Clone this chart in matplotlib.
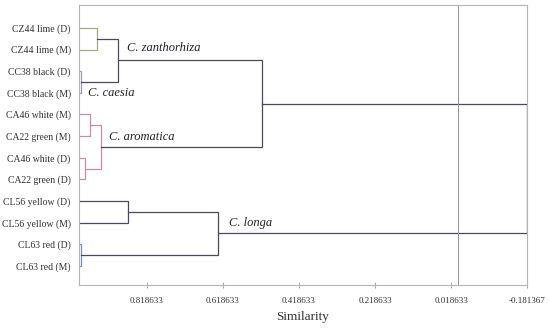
import matplotlib.pyplot as plt

# leaves, top to bottom
labels = ["CZ44 lime (D)", "CZ44 lime (M)", "CC38 black (D)", "CC38 black (M)",
          "CA46 white (M)", "CA22 green (M)", "CA46 white (D)", "CA22 green (D)",
          "CL56 yellow (D)", "CL56 yellow (M)", "CL63 red (D)", "CL63 red (M)"]

# merges: (left child, right child, similarity); new node ids start at 12
merge_a = [0, 2, 12, 4, 6, 15, 14, 8, 10, 19, 18]
merge_b = [1, 3, 13, 5, 7, 16, 17, 9, 11, 20, 21]
merge_sim = [0.951, 0.992, 0.894, 0.969, 0.982, 0.940, 0.515, 0.869, 0.992, 0.631, -0.181367]
merge_col = ["#a9ab7c", "#9a9ab0", "#4a4a5c", "#c68aae", "#c68aae", "#c68aae",
             "#4a4a5c", "#4a4a5c", "#6f8fbf", "#4a4a5c", "#4a4a5c"]

ticks = [0.818633, 0.618633, 0.418633, 0.218633, 0.018633, -0.181367]
x_left = 0.9976

fig = plt.figure(figsize=(5.5, 3.3), dpi=100)
ax = fig.add_axes([0.1436, 0.1364, 0.8146, 0.8485])

# node positions
pos_x = {i: x_left for i in range(len(labels))}
pos_y = {i: float(i) for i in range(len(labels))}
for k in range(len(merge_a)):
    a, b, s = merge_a[k], merge_b[k], merge_sim[k]
    ax.plot([pos_x[a], s, s, pos_x[b]], [pos_y[a], pos_y[a], pos_y[b], pos_y[b]],
            color=merge_col[k], lw=0.9, solid_joinstyle="miter")
    nid = len(labels) + k
    pos_x[nid] = s
    pos_y[nid] = (pos_y[a] + pos_y[b]) / 2

ax.axvline(0.0, color="#999999", lw=0.8)

ax.set_xlim(x_left, -0.181367)
ax.set_ylim(11.88, -1.06)
ax.set_yticks(range(len(labels)))
ax.set_yticklabels(labels, family="Liberation Serif", fontsize=7, color="#333333")
ax.tick_params(axis="y", length=0, pad=6)
ax.set_xticks(ticks)
ax.set_xticklabels([f"{t:.6f}" for t in ticks], family="Liberation Serif",
                   fontsize=6.5, color="#333333")
ax.tick_params(axis="x", direction="inout", length=4, color="#aaaaaa", pad=7)
for sp in ax.spines.values():
    sp.set_color("#b5b5b5")
    sp.set_linewidth(0.8)
ax.set_xlabel("Similarity", family="Liberation Serif", fontsize=9.5, color="#333333")

it = dict(family="Liberation Serif", fontsize=9, color="#222222", va="center")
ax.text(0.871, 0.95, "C. zanthorhiza", style="italic", **it)
ax.text(0.975, 3.0, "C. caesia", style="italic", **it)
ax.text(0.918, 5.05, "C. aromatica", style="italic", **it)
ax.text(0.604, 9.0, "C. longa", style="italic", **it)

fig.savefig("out.png")
